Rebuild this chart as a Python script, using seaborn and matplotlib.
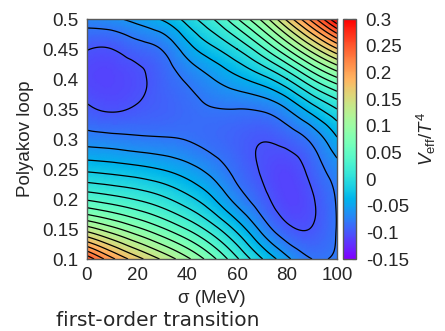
import numpy as np
import matplotlib
matplotlib.use("Agg")
import matplotlib.pyplot as plt
import matplotlib.tri as mtri
from matplotlib.cm import ScalarMappable
from matplotlib.colors import Normalize
import seaborn as sns

# ---- data ----
sigma_mev = [0, 10, 20, 30, 40, 50, 60, 70, 80, 90, 100]
polyakov_loop = [0.10, 0.15, 0.20, 0.25, 0.30, 0.35, 0.40, 0.45, 0.50]
veff_L010 = [0.255, 0.205, 0.168, 0.137, 0.105, 0.067, 0.023, -0.019, -0.055, -0.080, -0.077]
veff_L015 = [0.130, 0.107, 0.085, 0.063, 0.039, 0.010, -0.026, -0.066, -0.095, -0.099, -0.079]
veff_L020 = [0.037, 0.028, 0.018, 0.005, -0.013, -0.037, -0.068, -0.093, -0.110, -0.102, -0.078]
veff_L025 = [-0.025, -0.029, -0.034, -0.041, -0.052, -0.068, -0.087, -0.102, -0.109, -0.093, -0.068]
veff_L030 = [-0.070, -0.073, -0.076, -0.078, -0.081, -0.087, -0.093, -0.099, -0.093, -0.075, -0.042]
veff_L035 = [-0.097, -0.102, -0.098, -0.093, -0.087, -0.081, -0.080, -0.077, -0.060, -0.030, 0.000]
veff_L040 = [-0.108, -0.110, -0.104, -0.092, -0.077, -0.061, -0.045, -0.028, 0.000, 0.040, 0.075]
veff_L045 = [-0.099, -0.100, -0.090, -0.079, -0.050, -0.025, 0.000, 0.035, 0.080, 0.130, 0.178]
veff_L050 = [-0.070, -0.064, -0.053, -0.038, -0.012, 0.018, 0.058, 0.105, 0.165, 0.228, 0.300]
cbar_ticks = [-0.15, -0.1, -0.05, 0, 0.05, 0.1, 0.15, 0.2, 0.25, 0.3]
x_ticks = [0, 20, 40, 60, 80, 100]
y_ticks = [0.1, 0.15, 0.2, 0.25, 0.3, 0.35, 0.4, 0.45, 0.5]

rows = [veff_L010, veff_L015, veff_L020, veff_L025, veff_L030,
        veff_L035, veff_L040, veff_L045, veff_L050]
Z = np.array(rows)
ny, nx = Z.shape

# ---- smooth field with matplotlib's cubic triangulation refiner ----
gi, gj = np.meshgrid(np.arange(nx, dtype=float), np.arange(ny, dtype=float))
tris = []
for j in range(ny - 1):
    for i in range(nx - 1):
        a = j * nx + i
        tris.append([a, a + 1, a + nx + 1])
        tris.append([a, a + nx + 1, a + nx])
tri_idx = mtri.Triangulation(gi.ravel(), gj.ravel(), triangles=np.array(tris))
refiner = mtri.UniformTriRefiner(tri_idx)
tri_ref, z_ref = refiner.refine_field(Z.ravel(), subdiv=4)
sx = np.interp(tri_ref.x, np.arange(nx), sigma_mev)
sy = np.interp(tri_ref.y, np.arange(ny), polyakov_loop)
tri_data = mtri.Triangulation(sx, sy, triangles=tri_ref.triangles)

# ---- style ----
sns.set_style("white")
plt.rcParams['font.family'] = ['Liberation Sans', 'DejaVu Sans']
plt.rcParams['axes.unicode_minus'] = False
plt.rcParams['contour.negative_linestyle'] = 'solid'
plt.rcParams['mathtext.fontset'] = 'custom'
plt.rcParams['mathtext.rm'] = 'Liberation Sans'
plt.rcParams['mathtext.it'] = 'Liberation Sans:italic'
cmap = sns.color_palette("rainbow", as_cmap=True)
norm = Normalize(vmin=-0.15, vmax=0.3)
fs = 13.5

fig = plt.figure(figsize=(4.45, 3.31), dpi=100)
ax = fig.add_axes([87 / 445, 72 / 331, 250 / 445, 240 / 331])
cax = fig.add_axes([343 / 445, 72 / 331, 13 / 445, 240 / 331])

ax.tripcolor(tri_data, z_ref, shading='gouraud', cmap=cmap, norm=norm, rasterized=True)
levels = np.arange(-0.1, 0.3, 0.02)
ax.tricontour(tri_data, z_ref, levels=levels, colors='black', linewidths=0.9,
              linestyles='solid')

ax.set_xlim(0, 100)
ax.set_ylim(0.1, 0.5)
ax.set_xticks(x_ticks)
ax.set_yticks(y_ticks)
ax.set_xticklabels([f"{t:g}" for t in x_ticks], fontsize=fs)
ax.set_yticklabels([f"{t:g}" for t in y_ticks], fontsize=fs)
ax.tick_params(length=0, pad=6)
for s in ax.spines.values():
    s.set_color('0.35')
    s.set_linewidth(1.0)
ax.set_xlabel("σ (MeV)", fontsize=fs, labelpad=4)
ax.set_ylabel("Polyakov loop", fontsize=fs, labelpad=6)

cb = fig.colorbar(ScalarMappable(norm=norm, cmap=cmap), cax=cax, ticks=cbar_ticks)
cb.ax.set_yticklabels([f"{t:g}" for t in cbar_ticks], fontsize=fs)
cb.ax.tick_params(direction='in', length=3, width=0.8, color='0.15', pad=7, left=True, right=True)
cb.outline.set_edgecolor('0.35')
cb.outline.set_linewidth(1.0)
cb.set_label(r"$V_{\rm eff}/T^4$", fontsize=fs, labelpad=4)

fig.text(158 / 445, 1 - 321 / 331, "first-order transition", fontsize=14.5,
         family='DejaVu Sans', ha='center', va='center')

fig.savefig("out.png", dpi=100)
